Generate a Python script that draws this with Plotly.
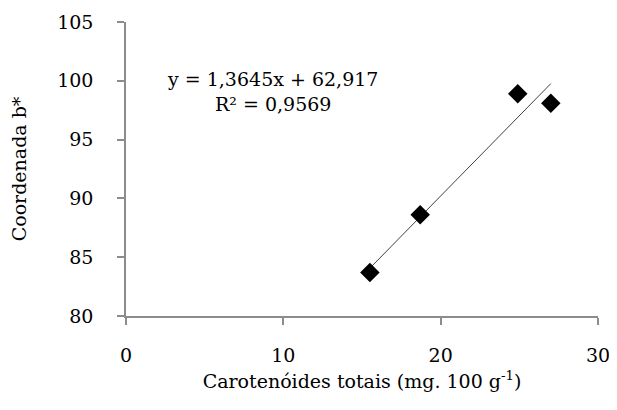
import plotly.graph_objects as go
import numpy as np

# Data
carotenoides = [15.5, 18.7, 24.9, 27.0]
coordenada_b = [83.7, 88.6, 98.9, 98.1]
slope = 1.3645
intercept = 62.917
r2_text = "0,9569"
x_ticks = [0, 10, 20, 30]
y_ticks = [80, 85, 90, 95, 100, 105]

FONT = "DejaVu Serif"
AXIS_COLOR = "#8c8c8c"
FS = 19

x_line = np.array([min(carotenoides), max(carotenoides)])
y_line = slope * x_line + intercept

fig = go.Figure()
fig.add_trace(go.Scatter(
    x=x_line, y=y_line, mode="lines",
    line=dict(color="#404040", width=1), showlegend=False, hoverinfo="skip"))
fig.add_trace(go.Scatter(
    x=carotenoides, y=coordenada_b, mode="markers",
    marker=dict(symbol="diamond", size=15, color="black"), showlegend=False))

fig.add_annotation(
    x=9.3, y=99.1, xref="x", yref="y", showarrow=False, xanchor="center", yanchor="middle",
    text="y = 1,3645x + 62,917<br>R² = " + r2_text,
    font=dict(family=FONT, size=FS, color="black"), align="center")

# page body adds an 8px offset; compensate in figure size/margins
fig.update_layout(
    width=609, height=394,
    margin=dict(l=118, r=19, t=14, b=86),
    paper_bgcolor="white", plot_bgcolor="white",
    font=dict(family=FONT, size=FS, color="black"),
    xaxis=dict(range=[0, 30], tickvals=x_ticks, showgrid=False, zeroline=False,
               automargin=False,
               showline=True, linecolor=AXIS_COLOR, linewidth=1.5,
               ticks="outside", ticklen=7, tickcolor=AXIS_COLOR, tickwidth=1.5,
               ticklabelstandoff=14,
               title=dict(text="Carotenóides totais (mg. 100 g<sup>-1</sup>)", standoff=10,
                          font=dict(family=FONT, size=FS))),
    yaxis=dict(range=[80, 105], tickvals=y_ticks, showgrid=False, zeroline=False,
               automargin=False,
               showline=True, linecolor=AXIS_COLOR, linewidth=1.5,
               ticks="outside", ticklen=7, tickcolor=AXIS_COLOR, tickwidth=1.5,
               ticklabelstandoff=20,
               title=dict(text="Coordenada b*", standoff=26, font=dict(family=FONT, size=FS))),
)

fig.write_html("out.html")
